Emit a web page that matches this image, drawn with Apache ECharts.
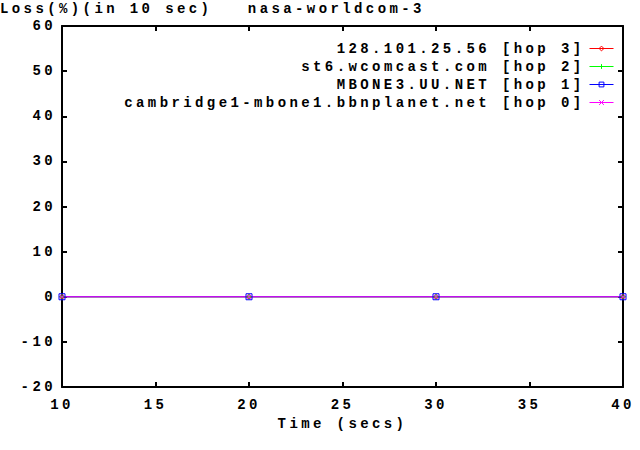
<!DOCTYPE html>
<html>
<head>
<meta charset="utf-8">
<script src="https://cdn.jsdelivr.net/npm/echarts@6/dist/echarts.min.js"></script>
<style>
html, body { margin: 0; padding: 0; background: #fff; }
#chart { width: 640px; height: 450px; }
#chart svg text { letter-spacing: 3.4px; white-space: pre; }
</style>
</head>
<body>
<div id="chart"></div>
<script>
const titleText = 'Loss(%)(in 10 sec)   nasa-worldcom-3';
const xName = 'Time (secs)';
const times = [10, 20, 30, 40];
const seriesNames = [
  '128.101.25.56 [hop 3]',
  'st6.wcomcast.com [hop 2]',
  'MBONE3.UU.NET [hop 1]',
  'cambridge1-mbone1.bbnplanet.net [hop 0]'
];
const hop3 = [0, 0, 0, 0];
const hop2 = [0, 0, 0, 0];
const hop1 = [0, 0, 0, 0];
const hop0 = [0, 0, 0, 0];

const FONT = 'Liberation Mono';
const colors = ['#ff0000', '#00ff00', '#0000ff', '#ff00ff'];
const symbols = [
  'path://M5,0L10,5L5,10L0,5Z',
  'path://M0,5L10,5M5,0L5,10',
  'path://M0,0L10,0L10,10L0,10Z',
  'path://M0,0L10,10M0,10L10,0'
];
const symSizes = [5, 5, 6, 4];
const allValues = [hop3, hop2, hop1, hop0];

const chart = echarts.init(document.getElementById('chart'), null, { renderer: 'svg' });

const axisCommon = {
  axisLine: { show: true, onZero: false, lineStyle: { color: '#000', width: 2 } },
  axisTick: { show: true, inside: true, length: 5, lineStyle: { color: '#000', width: 2 } },
  splitLine: { show: false }
};
const labelStyle = { color: '#000', fontFamily: FONT, fontSize: 14, fontWeight: 'bold' };

const series = seriesNames.map((name, k) => ({
  name: name,
  type: 'line',
  xAxisIndex: 0,
  yAxisIndex: 0,
  data: times.map((t, i) => [t, allValues[k][i]]),
  symbol: symbols[k],
  symbolSize: symSizes[k],
  showSymbol: true,
  animation: false,
  color: colors[k],
  lineStyle: { color: colors[k], width: 1 },
  itemStyle: { color: 'none', borderColor: colors[k], borderWidth: 1 }
}));

chart.setOption({
  animation: false,
  backgroundColor: '#fff',
  title: {
    text: titleText,
    left: -4,
    top: 0,
    padding: [2, 0, 0, 4],
    textStyle: { color: '#000', fontFamily: FONT, fontSize: 14, fontWeight: 'bold' }
  },
  grid: { left: 62, right: 17, top: 26, bottom: 63, containLabel: false },
  legend: {
    orient: 'vertical',
    right: 26,
    top: 39.5,
    align: 'right',
    itemWidth: 24,
    itemHeight: 6,
    itemGap: 0,
    padding: 0,
    lineStyle: { width: 1 },
    itemStyle: { borderWidth: 1 },
    textStyle: { color: '#000', fontFamily: FONT, fontSize: 14, fontWeight: 'bold', lineHeight: 18 },
    data: seriesNames
  },
  xAxis: [
    Object.assign({}, axisCommon, {
      type: 'value', position: 'bottom', min: 10, max: 40, interval: 5,
      axisLabel: Object.assign({ margin: 11 }, labelStyle),
      name: xName, nameLocation: 'middle', nameGap: 30,
      nameTextStyle: labelStyle
    }),
    Object.assign({}, axisCommon, {
      type: 'value', position: 'top', min: 10, max: 40, interval: 5,
      axisLabel: { show: false }
    })
  ],
  yAxis: [
    Object.assign({}, axisCommon, {
      type: 'value', position: 'left', min: -20, max: 60, interval: 10,
      axisLabel: Object.assign({ margin: 6 }, labelStyle)
    }),
    Object.assign({}, axisCommon, {
      type: 'value', position: 'right', min: -20, max: 60, interval: 10,
      axisLabel: { show: false }
    })
  ],
  series: series
});
</script>
</body>
</html>
